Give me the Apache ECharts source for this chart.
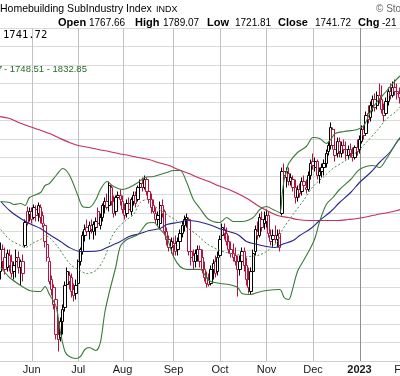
<!DOCTYPE html>
<html><head><meta charset="utf-8">
<script src="https://cdn.jsdelivr.net/npm/echarts@6/dist/echarts.min.js"></script>
<style>html,body{margin:0;padding:0;background:#fff}#c{width:400px;height:376px}</style>
</head><body><div id="c"></div>
<script>
// trading calendar (NYSE holidays inside the window)
const holidays = ['2022-05-30','2022-06-20','2022-07-04','2022-09-05','2022-11-24','2022-12-26','2023-01-02','2023-01-16'];
function tradingDays(s, e) {
  const out = []; let t = Date.parse(s + 'T00:00:00Z'); const end = Date.parse(e + 'T00:00:00Z');
  while (t <= end) { const d = new Date(t); const w = d.getUTCDay(); const iso = d.toISOString().slice(0, 10);
    if (w !== 0 && w !== 6 && holidays.indexOf(iso) < 0) out.push(iso); t += 86400000; }
  return out;
}
const dates = tradingDays('2022-05-10', '2023-02-01');

const opens = [1346,1326,1370,1354,1334,1358,1346,1326,1346,1354,
1334,1346,1378,1446,1440,1446,1434,1450,1442,1454,
1438,1418,1380,1346,1310,1294,1270,1200,1194,1226,
1254,1300,1306,1314,1290,1282,1302,1346,1366,1398,
1414,1406,1418,1406,1414,1446,1418,1434,1458,1466,
1458,1494,1466,1446,1474,1478,1466,1450,1442,1462,
1446,1466,1478,1470,1494,1502,1494,1510,1486,1470,
1458,1442,1430,1422,1458,1446,1406,1390,1374,1382,
1382,1370,1386,1402,1418,1430,1430,1366,1358,1346,
1358,1370,1354,1330,1314,1310,1302,1330,1346,1326,
1358,1398,1410,1402,1386,1370,1362,1358,1346,1330,
1346,1366,1338,1310,1286,1326,1366,1406,1398,1430,
1430,1426,1438,1398,1390,1398,1390,1402,1442,1526,
1514,1522,1506,1510,1494,1474,1490,1486,1506,1494,
1490,1518,1546,1534,1546,1518,1526,1534,1542,1566,
1578,1610,1570,1562,1586,1562,1578,1570,1558,1570,
1562,1554,1574,1570,1586,1610,1602,1642,1634,1658,
1670,1658,1678,1670,1650,1642,1666,1686,1678,1694,
1686,1682,1674,1686];
const highs = [1360,1384,1380,1374,1370,1370,1360,1346,1370,1366,
1350,1360,1430,1456,1454,1454,1460,1458,1464,1460,
1446,1422,1390,1354,1318,1300,1278,1230,1234,1260,
1306,1334,1326,1322,1302,1310,1350,1374,1406,1420,
1430,1426,1430,1426,1434,1454,1442,1462,1474,1482,
1506,1498,1478,1478,1486,1490,1478,1462,1470,1474,
1474,1486,1486,1498,1510,1514,1518,1514,1494,1482,
1470,1454,1446,1466,1470,1450,1414,1398,1394,1394,
1398,1394,1410,1426,1438,1442,1434,1378,1370,1370,
1378,1378,1370,1346,1326,1322,1338,1350,1358,1366,
1398,1422,1422,1414,1398,1386,1382,1374,1358,1358,
1374,1374,1354,1334,1334,1370,1418,1426,1442,1446,
1446,1450,1446,1410,1410,1418,1410,1410,1534,1542,
1534,1534,1522,1518,1510,1498,1502,1514,1518,1510,
1526,1550,1562,1554,1550,1534,1542,1550,1570,1586,
1624,1614,1610,1594,1594,1586,1590,1586,1578,1582,
1574,1578,1590,1598,1618,1618,1646,1658,1666,1678,
1682,1686,1702,1698,1662,1674,1694,1702,1706,1710,
1702,1694,1698,1706];
const lows = [1304,1310,1330,1320,1326,1326,1314,1310,1314,1322,
1298,1306,1374,1418,1426,1422,1430,1426,1426,1422,
1414,1374,1346,1300,1278,1250,1190,1166,1186,1200,
1246,1290,1290,1274,1266,1270,1294,1338,1360,1386,
1398,1390,1402,1390,1398,1414,1410,1426,1442,1450,
1446,1458,1434,1438,1450,1458,1442,1430,1434,1442,
1438,1458,1454,1466,1482,1486,1490,1478,1462,1442,
1442,1422,1418,1410,1434,1398,1378,1366,1362,1354,
1358,1358,1378,1394,1406,1414,1358,1338,1330,1334,
1346,1334,1322,1306,1294,1296,1298,1310,1314,1318,
1354,1390,1390,1378,1362,1354,1346,1338,1276,1318,
1338,1326,1298,1282,1280,1314,1358,1390,1394,1406,
1410,1414,1394,1378,1374,1382,1374,1366,1438,1502,
1494,1498,1498,1486,1462,1466,1474,1478,1490,1482,
1486,1510,1530,1526,1510,1502,1514,1518,1534,1558,
1570,1570,1546,1554,1554,1554,1562,1550,1550,1554,
1546,1550,1558,1562,1582,1590,1598,1622,1626,1646,
1646,1650,1662,1642,1626,1638,1658,1670,1674,1678,
1670,1662,1666,1670];
const closes = [1314,1370,1346,1330,1362,1338,1322,1338,1354,1334,
1346,1322,1424,1422,1446,1430,1454,1438,1458,1434,
1422,1386,1354,1306,1290,1260,1200,1190,1226,1250,
1298,1326,1318,1286,1278,1298,1346,1370,1398,1410,
1406,1418,1410,1420,1426,1422,1434,1458,1466,1454,
1498,1466,1442,1474,1478,1470,1450,1438,1462,1450,
1470,1478,1462,1494,1502,1494,1510,1486,1470,1454,
1446,1430,1438,1458,1442,1406,1390,1374,1386,1378,
1366,1386,1402,1418,1430,1434,1366,1354,1346,1362,
1370,1346,1330,1314,1302,1300,1330,1342,1322,1354,
1390,1414,1402,1386,1370,1362,1354,1346,1330,1346,
1366,1338,1310,1294,1326,1362,1410,1398,1434,1414,
1422,1438,1402,1386,1398,1390,1398,1374,1526,1518,
1526,1506,1514,1494,1474,1490,1482,1506,1498,1490,
1518,1542,1538,1546,1518,1526,1534,1542,1562,1578,
1614,1578,1558,1586,1566,1578,1570,1558,1570,1562,
1554,1574,1566,1590,1610,1598,1638,1630,1658,1670,
1654,1678,1670,1650,1638,1666,1686,1678,1694,1686,
1682,1674,1686,1678];

// overlays: [trading-day index, value]
const bbUpper = [[1,1466],[5,1464],[7,1460],[10,1462],[12,1458],[14,1474],[19,1484],[21,1498],[23,1502],[26,1518],[29,1532],[31,1526],[33,1510],[36,1476],[38,1456],[41,1454],[44,1470],[46,1490],[49,1506],[52,1496],[56,1490],[59,1494],[63,1504],[66,1514],[70,1516],[73,1520],[76,1524],[79,1528],[82,1528],[85,1504],[88,1470],[91,1452],[95,1430],[100,1424],[103,1434],[106,1426],[110,1426],[115,1434],[118,1450],[121,1456],[124,1450],[127,1444],[128,1478],[129,1510],[130,1526],[131,1542],[135,1564],[139,1576],[142,1594],[145,1592],[148,1582],[150,1590],[152,1602],[156,1606],[162,1610],[165,1618],[168,1646],[171,1666],[175,1686],[178,1702],[181,1716],[183,1722]];
const bbLower = [[1,1334],[5,1314],[10,1298],[14,1288],[19,1286],[21,1296],[23,1280],[26,1256],[28,1204],[30,1166],[32,1156],[35,1152],[37,1156],[39,1170],[41,1174],[44,1168],[46,1184],[48,1244],[50,1284],[53,1336],[55,1376],[58,1390],[63,1400],[67,1422],[70,1424],[73,1410],[76,1394],[79,1356],[82,1336],[85,1330],[88,1330],[91,1330],[95,1308],[100,1302],[104,1300],[108,1294],[110,1282],[114,1280],[117,1284],[121,1288],[127,1290],[129,1274],[131,1270],[132,1278],[135,1326],[138,1350],[141,1374],[143,1394],[145,1426],[148,1460],[151,1474],[154,1490],[159,1510],[163,1530],[169,1538],[172,1534],[175,1550],[180,1586],[181,1590],[183,1598]];
const bbMiddle = [[1,1410],[5,1390],[10,1378],[12,1374],[16,1384],[19,1390],[21,1398],[23,1394],[27,1374],[30,1354],[33,1338],[36,1330],[40,1322],[44,1328],[47,1346],[49,1366],[51,1394],[54,1414],[58,1430],[61,1440],[64,1464],[67,1470],[70,1458],[76,1440],[81,1426],[85,1414],[90,1398],[94,1382],[99,1370],[103,1364],[108,1360],[112,1356],[117,1358],[121,1366],[126,1386],[128,1408],[133,1440],[138,1470],[142,1496],[147,1516],[151,1532],[156,1546],[159,1556],[162,1566],[166,1584],[171,1608],[175,1630],[180,1648],[181,1654],[183,1662]];
const ma50 = [[1,1466],[5,1448],[10,1432],[14,1422],[19,1412],[23,1400],[28,1386],[32,1374],[37,1366],[41,1366],[46,1368],[50,1376],[55,1386],[59,1396],[64,1402],[68,1408],[73,1412],[76,1420],[81,1424],[85,1428],[90,1426],[95,1420],[101,1410],[108,1400],[112,1386],[117,1380],[121,1376],[125,1374],[128,1380],[133,1388],[136,1398],[141,1412],[145,1428],[150,1446],[154,1464],[159,1484],[163,1504],[168,1524],[172,1544],[177,1566],[181,1592],[183,1600]];
const ma200 = [[0,1636],[5,1632],[9,1624],[14,1616],[18,1610],[23,1602],[27,1594],[32,1584],[36,1578],[41,1574],[45,1570],[50,1566],[54,1562],[59,1558],[63,1554],[68,1550],[72,1544],[77,1538],[81,1530],[86,1522],[90,1514],[95,1506],[99,1498],[104,1490],[108,1482],[113,1470],[117,1458],[122,1446],[126,1438],[131,1434],[135,1430],[140,1428],[144,1428],[149,1428],[153,1428],[158,1430],[162,1432],[167,1436],[171,1440],[176,1444],[180,1448],[183,1452]];

const monthNames = ['Jan','Feb','Mar','Apr','May','Jun','Jul','Aug','Sep','Oct','Nov','Dec'];
const firstOfMonth = [];
dates.forEach((d, i) => { if (i > 0 && d.slice(5, 7) !== dates[i - 1].slice(5, 7)) firstOfMonth.push(i); });
const isFirst = (i) => firstOfMonth.indexOf(i) >= 0;
// month-start gridline items: [category index, level inside the axis range, year-start flag]
const monthStarts = firstOfMonth.map((i) => [i, 1500, dates[i].slice(5, 7) === '01' ? 1 : 0]);

const RED = '#b5123f', BLACK = '#000000';
const candles = dates.map((d, i) => {
  const prev = i > 0 ? closes[i - 1] : opens[i];
  const c = closes[i] >= prev ? BLACK : RED;
  return { value: [opens[i], closes[i], lows[i], highs[i]],
    itemStyle: { color: '#ffffff', color0: c, borderColor: c, borderColor0: c } };
});

const F = 'Liberation Sans, Arial, sans-serif';
function txt(x, y, t, font, fill, align) {
  return { type: 'text', x: x, y: y, z: 100, style: { text: t, font: font, fill: fill || '#000', align: align || 'left', verticalAlign: 'middle' } };
}

const chart = echarts.init(document.getElementById('c'), null, { renderer: 'canvas' });
chart.setOption({
  animation: false,
  backgroundColor: '#fff',
  grid: { left: -1.5, top: 28, width: 405.3, height: 333, show: false, outerBoundsMode: 'none', containLabel: false },
  xAxis: {
    type: 'category', data: dates, boundaryGap: false,
    axisLine: { show: true, lineStyle: { color: '#cfcfcf' } },
    axisTick: { show: false },
    axisLabel: {
      interval: isFirst, margin: 3,
      color: '#1a1a1a', fontSize: 11, fontFamily: F,
      formatter: (v) => { const m = +v.slice(5, 7); return m === 1 ? '{y|' + v.slice(0, 4) + '}' : monthNames[m - 1]; },
      rich: { y: { fontWeight: 'bold', fontSize: 11, fontFamily: F, color: '#1a1a1a' } }
    },
    splitLine: { show: false }
  },
  yAxis: {
    type: 'value', position: 'right', min: 1147, max: 1813, interval: 37, scale: true,
    axisLabel: { show: false }, axisLine: { show: false }, axisTick: { show: false },
    splitLine: { show: true, lineStyle: { color: '#dadada', width: 1 } }
  },
  series: [
    { type: 'custom', data: monthStarts, z: 1, silent: true, clip: false,
      encode: { x: 0, y: 1 },
      renderItem: (params, api) => {
        const x = Math.round(api.coord([api.value(0), api.value(1)])[0]) + 0.5;
        const cs = params.coordSys;
        return { type: 'line', shape: { x1: x, y1: cs.y, x2: x, y2: cs.y + cs.height },
          style: { stroke: api.value(2) ? '#8f8f8f' : '#c2c2c2', lineWidth: 1 } };
      } },
    { type: 'candlestick', data: candles, barWidth: 2.8, z: 3,
      itemStyle: { borderWidth: 1 } },
    { type: 'line', data: ma200, showSymbol: false, smooth: 0.3, z: 4, lineStyle: { color: '#c3305a', width: 1.2 } },
    { type: 'line', data: ma50, showSymbol: false, smooth: 0.3, z: 4, lineStyle: { color: '#26268a', width: 1.1 } },
    { type: 'line', data: bbUpper, showSymbol: false, smooth: 0.3, z: 4, lineStyle: { color: '#3b7a3b', width: 1.1 } },
    { type: 'line', data: bbLower, showSymbol: false, smooth: 0.3, z: 4, lineStyle: { color: '#3b7a3b', width: 1.1 } },
    { type: 'line', data: bbMiddle, showSymbol: false, smooth: 0.3, z: 4, lineStyle: { color: '#4a8a4a', width: 1, type: [2, 2] } }
  ],
  graphic: [
    txt(0, 9, 'Homebuilding SubIndustry Index', '10.5px ' + F),
    txt(156, 9.5, 'INDX', '9px ' + F),
    txt(376, 9, '\u00A9 StockCharts.com', '10px ' + F, '#666'),
    txt(58, 22.5, 'Open', 'bold 11px ' + F),
    txt(89, 23, '1767.66', '10px ' + F),
    txt(135, 22.5, 'High', 'bold 11px ' + F),
    txt(163, 23, '1789.07', '10px ' + F),
    txt(207, 22.5, 'Low', 'bold 11px ' + F),
    txt(235, 23, '1721.81', '10px ' + F),
    txt(278, 22.5, 'Close', 'bold 11px ' + F),
    txt(315, 23, '1741.72', '10px ' + F),
    txt(358, 22.5, 'Chg', 'bold 11px ' + F),
    txt(382, 23, '-21', '10px ' + F),
    txt(3, 35, '1741.72', '10.5px DejaVu Sans Mono, monospace'),
    txt(2.3, 69, 'BB(20,2.0) 1664.17', '9.5px ' + F, '#2a6a2a', 'right'),
    txt(4, 69, '- 1748.51 - 1832.85', '9.5px ' + F, '#2a6a2a')
  ]
});
</script></body></html>
